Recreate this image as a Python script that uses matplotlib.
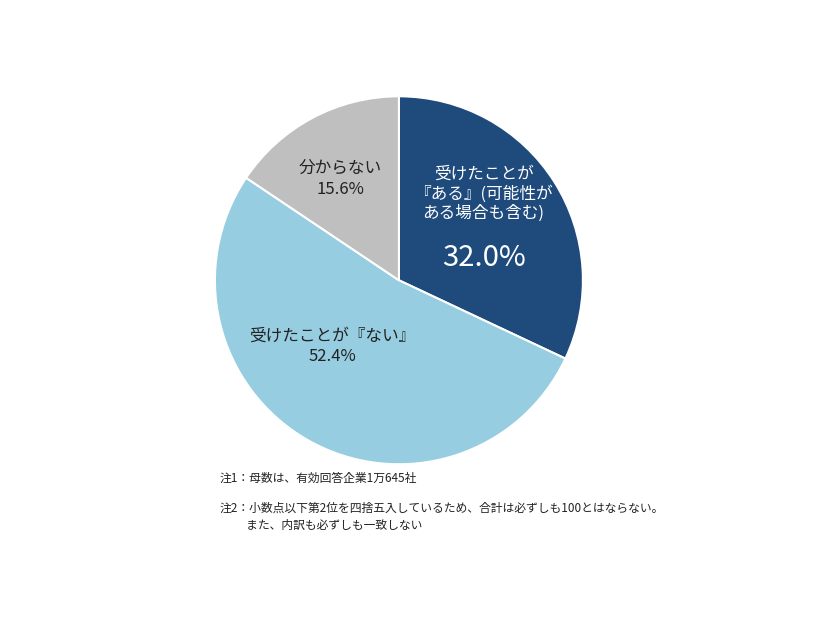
import matplotlib
matplotlib.use("Agg")
import matplotlib.pyplot as plt

plt.rcParams['font.family'] = ['Noto Sans CJK JP', 'DejaVu Sans']

categories = ["受けたことが\n『ある』(可能性が\nある場合も含む)", "受けたことが『ない』", "分からない"]
values = [32.0, 52.4, 15.6]
colors = ["#1f4a7c", "#96cde0", "#bfbfbf"]
notes = ["注1：母数は、有効回答企業1万645社",
         "注2：小数点以下第2位を四捨五入しているため、合計は必ずしも100とはならない。\n　　 また、内訳も必ずしも一致しない"]

fig = plt.figure(figsize=(8.26, 6.2), dpi=100)
ax = fig.add_axes([0.483 - 0.2228, 0.548 - 0.2968, 0.4455, 0.5935])
ax.pie(values, colors=colors, startangle=90, counterclock=False,
       wedgeprops=dict(edgecolor="white", linewidth=1.5))
ax.set_aspect('equal')
ax.set_xlim(-1, 1); ax.set_ylim(-1, 1)

ax.text(0.46, 0.47, categories[0], ha='center', va='center', color='white', fontsize=12, linespacing=1.15)
ax.text(0.46, 0.12, f"{values[0]:.1f}%", ha='center', va='center', color='white', fontsize=21)
ax.text(-0.36, -0.36, f"{categories[1]}\n{values[1]:.1f}%", ha='center', va='center', color='#222222', fontsize=12, linespacing=1.3)
ax.text(-0.32, 0.55, f"{categories[2]}\n{values[2]:.1f}%", ha='center', va='center', color='#222222', fontsize=12, linespacing=1.3)

fig.text(220/826, 1 - 478/620, notes[0], ha='left', va='center', fontsize=8.5, color='#222222')
fig.text(220/826, 1 - 517/620, notes[1], ha='left', va='center', fontsize=8.5, color='#222222', linespacing=1.4)

fig.savefig("out.png", dpi=100, facecolor='white')
